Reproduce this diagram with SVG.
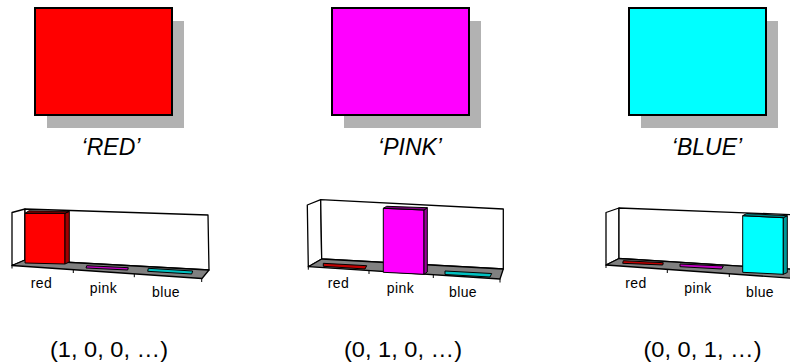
<svg xmlns="http://www.w3.org/2000/svg" width="790" height="362" viewBox="0 0 790 362">
<style>
.sq{stroke:#000;stroke-width:2}
.sh{fill:#b2b2b2}
.cap{font-family:"Liberation Sans",Arial,sans-serif;font-style:italic;font-size:23px;fill:#000;text-anchor:middle}
.tup{font-family:"Liberation Sans",Arial,sans-serif;font-size:22px;fill:#000;text-anchor:middle}
.lbl{font-family:"Liberation Sans",Arial,sans-serif;font-size:14px;fill:#000;text-anchor:middle;letter-spacing:0.4px}
.wall{fill:#fff;stroke:#000;stroke-width:1.3;stroke-linejoin:round}
.floor{fill:#808080;stroke:#000;stroke-width:1.3;stroke-linejoin:round}
.tick{stroke:#000;stroke-width:1}
.bar{stroke:#000;stroke-width:1;stroke-linejoin:round}
</style>

<g id="square-red">
<rect class="sh" x="47" y="21" width="137" height="107"/>
<rect class="sq" x="35" y="8" width="137" height="107" fill="#ff0000"/>
<text class="cap" x="111" y="155">‘RED’</text>
</g>
<g id="square-pink">
<rect class="sh" x="344" y="21" width="137" height="107"/>
<rect class="sq" x="332" y="8" width="137" height="107" fill="#ff00ff"/>
<text class="cap" x="410" y="155">‘PINK’</text>
</g>
<g id="square-blue">
<rect class="sh" x="641" y="21" width="137" height="107"/>
<rect class="sq" x="629" y="8" width="137" height="107" fill="#00ffff"/>
<text class="cap" x="707" y="155">‘BLUE’</text>
</g>

<g id="chart-red">
<polygon class="wall" points="12,212.5 25,209 25,260 12,265.5"/>
<polygon class="wall" points="25,209 208,215 209,270 25,260"/>
<polygon class="floor" points="12,265.5 25,260 209,270 202,278.5"/>
<line class="tick" x1="12" y1="265.5" x2="12" y2="268.5"/>
<line class="tick" x1="73.3" y1="269.7" x2="73.3" y2="273"/>
<line class="tick" x1="134.3" y1="273.9" x2="134.3" y2="277.2"/>
<line class="tick" x1="201.7" y1="278.5" x2="201.7" y2="282"/>
<polygon class="bar" fill="#ff0000" points="25,213.3 65,213.3 65,264 25,263"/>
<polygon class="bar" fill="#a00000" points="65,213.3 69.3,211.3 69.3,262 65,264"/>
<polygon class="bar" fill="#800000" points="25,213.3 29,210.8 69.3,211.3 65,213.3"/>
<polygon class="bar" fill="#c000c0" points="86.7,265.7 128.3,267.7 127.7,270 86,268"/>
<polygon class="bar" fill="#00c0c0" points="148.3,268.3 192.7,271 191.7,274 147.7,271.3"/>
<text class="lbl" x="41.5" y="288">red</text>
<text class="lbl" x="103.5" y="293">pink</text>
<text class="lbl" x="166" y="296.5">blue</text>
</g>

<g id="chart-pink">
<polygon class="wall" points="307.3,205 320.7,199.7 321.7,259 308.3,266.7"/>
<polygon class="wall" points="320.7,199.7 503.3,209 503.3,269 321.7,259"/>
<polygon class="floor" points="308.3,266.7 321.7,259 503.3,269 500,279"/>
<line class="tick" x1="308.3" y1="266.7" x2="308.3" y2="269.7"/>
<line class="tick" x1="369" y1="270.6" x2="369" y2="274"/>
<line class="tick" x1="433.3" y1="274.7" x2="433.3" y2="278"/>
<line class="tick" x1="500" y1="279" x2="500" y2="282.5"/>
<polygon class="bar" fill="#c00000" points="323.3,263.3 366.7,265.7 365,269 323.3,266.3"/>
<polygon class="bar" fill="#ff00ff" points="383.3,208.3 424,210 424,274.3 383.3,272.3"/>
<polygon class="bar" fill="#990099" points="424,210 427.3,207.7 427.3,272 424,274.3"/>
<polygon class="bar" fill="#800080" points="383.3,208.3 386.7,206.3 427.3,207.7 424,210"/>
<polygon class="bar" fill="#00c0c0" points="445,271 491.7,273.5 490,277 445,274.5"/>
<text class="lbl" x="338.5" y="288">red</text>
<text class="lbl" x="400.5" y="293">pink</text>
<text class="lbl" x="463" y="296.5">blue</text>
</g>

<g id="chart-blue">
<polygon class="wall" points="606,212.5 619,208 619,258.5 606,265"/>
<polygon class="wall" points="619,208 802,215 803,270 619,258.5"/>
<polygon class="floor" points="606,265 619,258.5 803,270 796,278.5"/>
<line class="tick" x1="606" y1="265" x2="606" y2="268"/>
<line class="tick" x1="667.3" y1="269.5" x2="667.3" y2="273"/>
<line class="tick" x1="729.3" y1="273.5" x2="729.3" y2="277"/>
<polygon class="bar" fill="#c00000" points="623.3,260.7 663.3,262.7 662.7,265 622.7,263.3"/>
<polygon class="bar" fill="#c000c0" points="680,264 723.3,266 721.7,269 680,266.7"/>
<polygon class="bar" fill="#00ffff" points="742.7,215.7 783.3,217.7 783.3,274.3 742.7,272.3"/>
<polygon class="bar" fill="#009999" points="783.3,217.7 787.3,215.7 787.3,272.5 783.3,274.3"/>
<polygon class="bar" fill="#008080" points="742.7,215.7 746.7,213.5 787.3,215.7 783.3,217.7"/>
<text class="lbl" x="636" y="287.5">red</text>
<text class="lbl" x="698" y="292.7">pink</text>
<text class="lbl" x="760" y="296.5">blue</text>
</g>

<g id="tuples">
<text class="tup" x="109" y="357" textLength="118" lengthAdjust="spacingAndGlyphs">(1, 0, 0, …)</text>
<text class="tup" x="403" y="357" textLength="118" lengthAdjust="spacingAndGlyphs">(0, 1, 0, …)</text>
<text class="tup" x="702.5" y="357" textLength="118" lengthAdjust="spacingAndGlyphs">(0, 0, 1, …)</text>
</g>
<g id="connectors"/>
</svg>
